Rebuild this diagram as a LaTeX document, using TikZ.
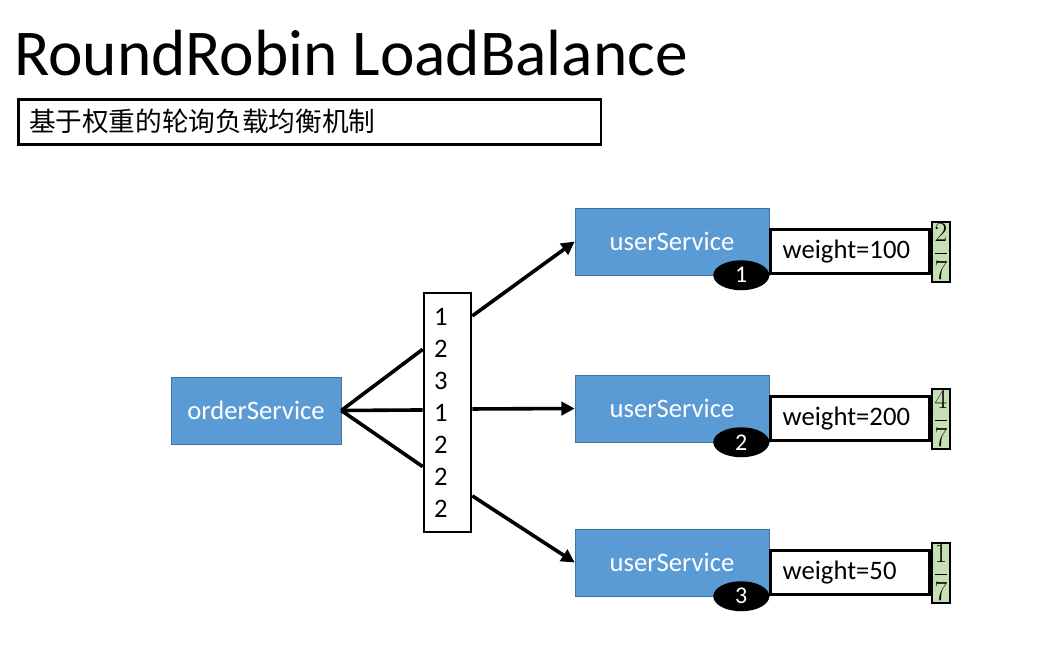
\documentclass[tikz,border=0pt]{standalone}
\usepackage[no-math]{fontspec}
\setmainfont{Carlito}
\newfontfamily\cjk{Noto Sans CJK SC}
\usepackage{tikz}
\usetikzlibrary{calc,arrows.meta,positioning,shapes.geometric}
\definecolor{svcblue}{HTML}{5B9BD5}
\definecolor{svcedge}{HTML}{41719C}
\definecolor{fracgreen}{HTML}{C5E0B4}
\tikzset{
  svc/.style={draw=svcedge, fill=svcblue, text=white, minimum width=145.5pt,
    minimum height=50.25pt, font=\fontsize{20}{24}\selectfont},
  wbox/.style={draw, line width=2.2pt, fill=white, anchor=south west,
    minimum height=33pt, text width=101pt, inner xsep=9pt, align=left,
    font=\fontsize{20}{24}\selectfont},
  fracbox/.style={draw, line width=1.8pt, fill=fracgreen, minimum width=13.5pt,
    minimum height=45pt, inner sep=0.3pt, font=\fontsize{21}{24}\selectfont},
  badge/.style={ellipse, fill=black, text=white, minimum width=42pt,
    minimum height=22.5pt, inner sep=0pt, font=\fontsize{18}{20}\selectfont},
  conn/.style={line width=2.7pt},
  arr/.style={conn, -{Triangle[length=10pt,width=10pt]}}
}

\begin{document}
\begin{tikzpicture}[x=0.75pt, y=-0.75pt]
    \useasboundingbox (0,0) rectangle (1051,647);
    % heading
    \node[anchor=base west, inner sep=0pt, font=\fontsize{49}{58}\selectfont] (title) at (14,75) {RoundRobin LoadBalance};
    \node[draw, line width=2pt, anchor=north west, minimum height=33.75pt, text width=421pt,
          inner xsep=8pt, font=\cjk\fontsize{20}{24}\selectfont] (sub) at (17,98) {基于权重的轮询负载均衡机制};

    % caller and round robin queue
    \node[svc, minimum width=127.5pt] (order) at (256,410.5) {orderService};
    \node[draw, line width=2pt, fill=white, minimum height=179.25pt, text width=20pt, inner xsep=7.6pt,
          align=left, font=\fontsize{20}{24}\selectfont] (queue) at (447.5,412.5) {1\\2\\3\\1\\2\\2\\2};

    % providers
    \node[svc] (u1) at (672,241.5) {userService};
    \node[svc] (u2) at (672,408.5) {userService};
    \node[svc] (u3) at (672,562.5) {userService};

    \node[wbox] (w1) at (u1.south east) {weight=100};
    \node[wbox] (w2) at (u2.south east) {weight=200};
    \node[wbox] (w3) at (u3.south east) {weight=50};

    \node[fracbox, right=0pt of w1] (f1) {$\displaystyle\frac{2}{7}$};
    \node[fracbox, right=0pt of w2] (f2) {$\displaystyle\frac{4}{7}$};
    \node[fracbox, right=0pt of w3] (f3) {$\displaystyle\frac{1}{7}$};

    \node[badge] (b1) at ([xshift=-21pt]u1.south east) {1};
    \node[badge] (b2) at ([xshift=-21pt]u2.south east) {2};
    \node[badge] (b3) at ([xshift=-21pt]u3.south east) {3};

    % connectors
    \draw[conn] (order.east) -- ($(queue.north west)!0.2385!(queue.south west)$);
    \draw[conn] (order.east) -- ($(queue.north west)!0.4895!(queue.south west)$);
    \draw[conn] (order.east) -- ($(queue.north west)!0.7238!(queue.south west)$);
    \draw[arr] ($(queue.north east)!0.1004!(queue.south east)$) -- (u1.west);
    \draw[arr] ($(queue.north east)!0.4854!(queue.south east)$) -- (u2.west);
    \draw[arr] ($(queue.north east)!0.845!(queue.south east)$) -- (u3.west);
\end{tikzpicture}
\end{document}
